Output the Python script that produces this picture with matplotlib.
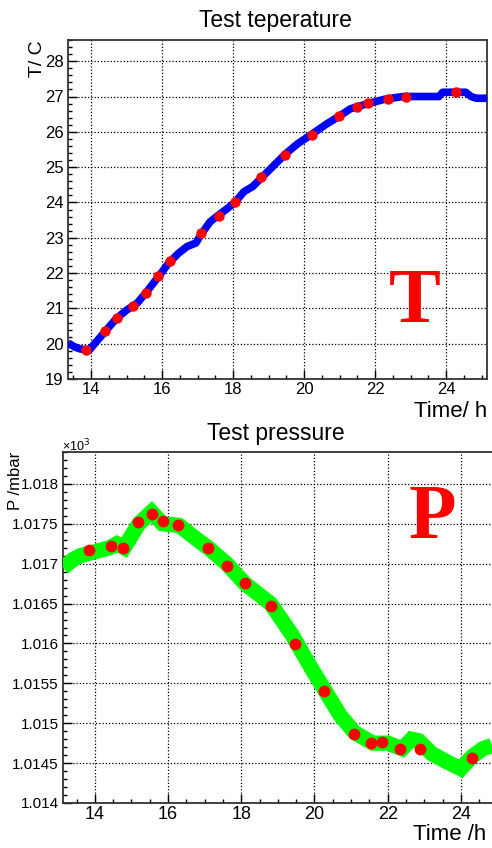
import matplotlib
matplotlib.use("Agg")
import matplotlib.pyplot as plt  # noqa: E402
from matplotlib.ticker import MultipleLocator, FixedLocator, FixedFormatter  # noqa: E402

W, H = 492, 848
BLUE, GREEN, RED = "#0000ff", "#00ff00", "#ff0000"

# temperature trace (h, deg C)
T_LINE_H = [13.35, 13.55, 13.7, 13.95, 14.1, 14.4, 14.7, 15.0, 15.3, 15.55, 15.9,
            16.2, 16.45, 16.7, 16.95, 17.1, 17.35, 17.6, 17.8, 18.05, 18.3, 18.55,
            18.8, 19.1, 19.45, 19.8, 20.2, 20.6, 21.0, 21.3, 21.8, 22.3, 22.8,
            23.8, 23.9, 24.55, 24.7, 24.85, 25.15]
T_LINE_C = [20.02, 19.9, 19.85, 19.82, 20.0, 20.35, 20.7, 20.95, 21.15, 21.45, 21.9,
            22.3, 22.55, 22.75, 22.85, 23.1, 23.45, 23.65, 23.8, 24.0, 24.3, 24.45,
            24.7, 25.0, 25.35, 25.65, 25.92, 26.2, 26.45, 26.65, 26.8, 26.93, 27.0,
            27.0, 27.12, 27.12, 27.0, 26.95, 26.95]
T_DOT_H = [13.86, 14.39, 14.72, 15.17, 15.54, 15.89, 16.22, 17.10, 17.6, 18.06,
           18.79, 19.45, 20.22, 20.99, 21.50, 21.79, 22.35, 22.87, 24.28]
T_DOT_C = [19.82, 20.36, 20.74, 21.07, 21.44, 21.92, 22.34, 23.13, 23.62, 24.01,
           24.71, 25.35, 25.92, 26.46, 26.71, 26.82, 26.93, 27.0, 27.12]

# pressure trace (h, mbar x 1e3)
P_BAND_H = [13.13, 13.4, 13.6, 14.0, 14.4, 14.6, 14.8, 15.2, 15.55, 15.85, 16.3,
            16.8, 17.1, 17.6, 18.1, 18.8, 19.4, 19.9, 20.3, 20.7, 21.1, 21.6, 22.0,
            22.4, 22.65, 22.85, 23.2, 23.6, 24.0, 24.3, 24.6, 24.85]
P_BAND_MBAR = [1.01695, 1.01705, 1.0171, 1.01715, 1.0172, 1.01725, 1.0172, 1.0175,
               1.01765, 1.0175, 1.01748, 1.0173, 1.0172, 1.0170, 1.01675, 1.0165,
               1.0161, 1.0157, 1.0154, 1.0151, 1.01488, 1.01475, 1.01475, 1.01468,
               1.0148, 1.01478, 1.01462, 1.01452, 1.01443, 1.01458, 1.01468, 1.01472]
P_DOT_H = [13.85, 14.44, 14.76, 15.17, 15.55, 15.87, 16.26, 17.10, 17.60, 18.10,
           18.80, 19.47, 20.26, 21.08, 21.55, 21.85, 22.35, 22.88, 24.29]
P_DOT_MBAR = [1.01717, 1.01722, 1.01720, 1.01752, 1.01762, 1.01754, 1.01748, 1.01720,
              1.01697, 1.01676, 1.01647, 1.01599, 1.01540, 1.01486, 1.01475, 1.01476,
              1.01468, 1.01468, 1.01456]

X_TICKS = [14, 16, 18, 20, 22, 24]
T_YTICKS = list(range(19, 29))
P_YTICKS = [1.014, 1.0145, 1.015, 1.0155, 1.016, 1.0165, 1.017, 1.0175, 1.018]
P_YLABELS = ["1.014", "1.0145", "1.015", "1.0155", "1.016", "1.0165", "1.017",
             "1.0175", "1.018"]

plt.rcParams["font.family"] = ["Liberation Sans", "DejaVu Sans"]


def box(px_left, px_top, px_right, px_bottom):
    return [px_left / W, 1 - px_bottom / H, (px_right - px_left) / W,
            (px_bottom - px_top) / H]


def root_style(ax, xminor, yminor, fs):
    ax.xaxis.set_major_locator(FixedLocator(X_TICKS))
    ax.xaxis.set_minor_locator(MultipleLocator(xminor))
    ax.yaxis.set_minor_locator(MultipleLocator(yminor))
    ax.tick_params(which="both", direction="in", top=False, right=False,
                   labelsize=fs, pad=3, color="black")
    ax.tick_params(axis="x", pad=2)
    ax.tick_params(which="major", length=6.5, width=1)
    ax.tick_params(which="minor", length=3, width=1)
    ax.grid(True, which="major", color="black", lw=0.9, ls=(0, (1, 1.6)))
    for sp in ax.spines.values():
        sp.set_linewidth(1.3)
        sp.set_color("#333333")


fig = plt.figure(figsize=(W / 100, H / 100), dpi=100)

# ---- temperature ----
ax1 = fig.add_axes(box(68, 40, 487, 379))
ax1.plot(T_LINE_H, T_LINE_C, color=BLUE, lw=5.5, solid_capstyle="butt", zorder=3)
ax1.plot(T_DOT_H, T_DOT_C, "o", color=RED, ms=7.5, mew=0, zorder=4)
ax1.set_xlim(13.35, 25.15)
ax1.set_ylim(19, 28.6)
ax1.yaxis.set_major_locator(FixedLocator(T_YTICKS))
root_style(ax1, 0.5, 0.2, 12)
fig.text(275 / W, 1 - 27 / H, "Test teperature", ha="center", va="baseline",
         fontsize=16.5)
fig.text(37 / W, 1 - 59 / H, "T/ C", rotation=90, ha="center", va="center",
         fontsize=14)
fig.text(487 / W, 1 - 417 / H, "Time/ h", ha="right", va="baseline", fontsize=16)
fig.text(415 / W, 1 - 304 / H, "T", ha="center", va="center", color=RED,
         fontsize=56, fontweight="bold", family="Liberation Serif")

# ---- pressure ----
ax2 = fig.add_axes(box(63, 452, 492, 803))
ax2.plot(P_BAND_H, P_BAND_MBAR, color=GREEN, lw=11, solid_capstyle="butt",
         solid_joinstyle="miter", zorder=3)
ax2.plot(P_DOT_H, P_DOT_MBAR, "o", color=RED, ms=8.5, mew=0, zorder=4)
ax2.set_xlim(13.13, 24.85)
ax2.set_ylim(1.014, 1.0184)
ax2.yaxis.set_major_locator(FixedLocator(P_YTICKS))
ax2.yaxis.set_major_formatter(FixedFormatter(P_YLABELS))
root_style(ax2, 0.5, 0.0001, 11)
ax2.tick_params(axis="x", labelsize=13)
ax2.spines["right"].set_visible(False)
fig.text(276 / W, 1 - 440 / H, "Test pressure", ha="center", va="baseline",
         fontsize=16.5)
fig.text(62 / W, 1 - 451 / H, "×10$^3$", ha="left", va="baseline", fontsize=9)
fig.text(16 / W, 1 - 481 / H, "P /mbar", rotation=90, ha="center", va="center",
         fontsize=12)
fig.text(413 / W, 1 - 840 / H, "Time /h", ha="left", va="baseline", fontsize=16)
fig.text(432 / W, 1 - 519 / H, "P", ha="center", va="center", color=RED,
         fontsize=56, fontweight="bold", family="Liberation Serif")

fig.savefig("out.png", dpi=100, facecolor="white")
